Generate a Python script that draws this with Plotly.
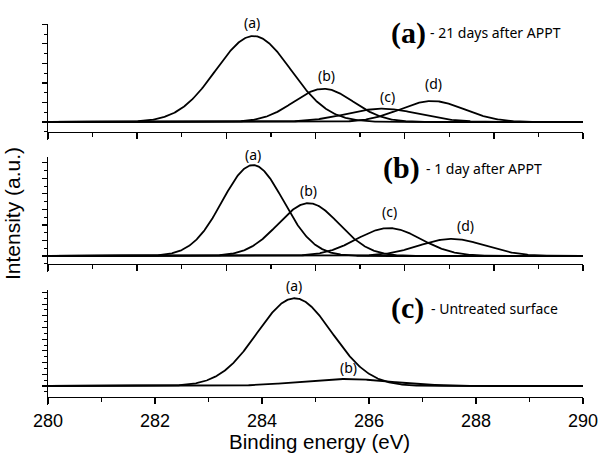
import numpy as np
import plotly.graph_objects as go

# ---------------- data ----------------
panel_tags = ["(a)", "(b)", "(c)"]
panel_captions = ["- 21 days after APPT", "- 1 day after APPT", "- Untreated surface"]

# fitted C1s components: centre (eV), height (a.u.), gaussian sigma (eV)
p1_labels = ["(a)", "(b)", "(c)", "(d)"]
p1_centers = [283.84, 285.15, 286.25, 287.18]
p1_heights = [8.8, 3.4, 1.36, 2.15]
p1_sigmas = [0.70, 0.56, 0.68, 0.60]

p2_labels = ["(a)", "(b)", "(c)", "(d)"]
p2_centers = [283.83, 284.87, 286.37, 287.55]
p2_heights = [11.7, 6.8, 3.6, 2.2]
p2_sigmas = [0.57, 0.57, 0.60, 0.62]

p3_labels = ["(a)", "(b)"]
p3_centers = [284.61, 285.55]
p3_heights = [15.0, 1.2]
p3_sigmas = [0.70, 0.85]

x_major_ticks = [280, 282, 284, 286, 288, 290]
x_minor_ticks = [281, 283, 285, 287, 289]

# ---------------- layout constants ----------------
W, H = 598, 453
L, R, T, B = 48, 15, 24, 48
PW, PH = W - L - R, H - T - B


def py2paper(py):
    return (H - B - py) / PH


def px2paper(px):
    return (px - L) / PW


# pixel geometry of each panel: top, baseline, x-axis line, bottom end, px per y unit
GEOM = [
    (24, 122, 132, 140, 9.77),
    (157, 256, 264, 272, 7.77),
    (290, 386, 397, 405, 5.85),
]
TITLE_Y = [33, 168, 308]
TITLE_X = [389, 381, 389]
CAPTION_X = [428, 424, 429]

LABEL_SHIFTS = [
    [(-1, 14), (3, 13), (5, 12), (1, 17)],
    [(0, 11), (0, 13), (1, 17), (14, 13)],
    [(-1, 13), (4, 11)],
]

panels = [
    (p1_labels, p1_centers, p1_heights, p1_sigmas),
    (p2_labels, p2_centers, p2_heights, p2_sigmas),
    (p3_labels, p3_centers, p3_heights, p3_sigmas),
]

xs = np.linspace(280, 290, 801)

fig = go.Figure()
annotations = []
LABEL_FONT = dict(family="Noto Sans, Open Sans, sans-serif", size=14, color="black")

for i, (labels, centers, heights, sigmas) in enumerate(panels):
    k = i + 1
    xa = "x" if k == 1 else f"x{k}"
    ya = "y" if k == 1 else f"y{k}"
    for lab, c, h, s in zip(labels, centers, heights, sigmas):
        ys = h * np.exp(-((xs - c) ** 2) / (2 * s * s))
        fig.add_trace(go.Scatter(x=xs, y=ys, mode="lines",
                                 line=dict(color="black", width=1.8),
                                 xaxis=xa, yaxis=ya, showlegend=False,
                                 hoverinfo="skip", cliponaxis=False))
    for (lab, c, h), (dx, dy) in zip(zip(labels, centers, heights), LABEL_SHIFTS[i]):
        annotations.append(dict(x=c, y=h, xref=xa, yref=ya, text=lab,
                                showarrow=False, xshift=dx, yshift=dy,
                                font=LABEL_FONT, xanchor="center", yanchor="middle"))

    top, base, axis_py, end, unit = GEOM[i]
    y_lo = -(end - base) / unit
    y_hi = (base - top) / unit
    y_axis_val = -(axis_py - base) / unit
    first = int(np.ceil(y_axis_val - 1e-6))
    last = int(np.floor(y_hi + 1e-6))
    ticks = list(range(first, last + 1))
    y_major = [t for t in ticks if t % 2 == 0]
    y_minor = [t for t in ticks if t % 2 != 0]

    if k < 3:
        step = 10 / 12
        xmaj = [280 + 2 * j * step for j in range(7)]
        xmin = [280 + (2 * j + 1) * step for j in range(6)]
    else:
        xmaj = x_major_ticks
        xmin = x_minor_ticks

    xkey = "xaxis" if k == 1 else f"xaxis{k}"
    ykey = "yaxis" if k == 1 else f"yaxis{k}"
    fig.update_layout(**{
        xkey: dict(domain=[0, 1], range=[280, 290.0001], anchor="free",
                   position=py2paper(axis_py), showline=True,
                   linecolor="black", linewidth=1.4, ticks="outside",
                   tickmode="array", tickvals=xmaj,
                   ticktext=[str(int(round(v))) for v in xmaj],
                   ticklen=6, tickwidth=1.4, tickcolor="black",
                   minor=dict(tickmode="array", tickvals=xmin, ticks="outside",
                              ticklen=4, tickwidth=1.2, tickcolor="black",
                              showgrid=False),
                   showticklabels=(k == 3), showgrid=False, zeroline=False,
                   automargin=False, ticklabeloverflow="allow",
                   ticklabelstandoff=1,
                   tickfont=dict(family="Liberation Sans, Arial, sans-serif",
                                 size=18, color="black"),
                   fixedrange=True),
        ykey: dict(domain=[py2paper(end), py2paper(top)], range=[y_lo, y_hi],
                   anchor=xa, showline=True, linecolor="black", linewidth=1.4,
                   ticks="outside", tickmode="array", tickvals=y_major,
                   ticklen=5, tickwidth=1.2, tickcolor="black",
                   minor=dict(tickmode="array", tickvals=y_minor, ticks="outside",
                              ticklen=3, tickwidth=1.0, tickcolor="black",
                              showgrid=False),
                   showticklabels=False, showgrid=False, zeroline=False,
                   automargin=False, fixedrange=True),
    })

    annotations.append(dict(x=px2paper(TITLE_X[i]), y=py2paper(TITLE_Y[i]),
                            xref="paper", yref="paper", text="<b>" + panel_tags[i] + "</b>",
                            showarrow=False, xanchor="left", yanchor="middle",
                            font=dict(family="Liberation Serif, Times New Roman, serif",
                                      size=30, color="black")))
    annotations.append(dict(x=px2paper(CAPTION_X[i]), y=py2paper(TITLE_Y[i]),
                            xref="paper", yref="paper", text=panel_captions[i],
                            showarrow=False, xanchor="left", yanchor="middle",
                            font=dict(family="Noto Sans, Open Sans, sans-serif",
                                      size=14, color="black")))

# axis titles
annotations.append(dict(x=px2paper(319), y=py2paper(441), xref="paper", yref="paper",
                        text="Binding energy (eV)", showarrow=False,
                        xanchor="center", yanchor="middle",
                        font=dict(family="Liberation Sans, Arial, sans-serif",
                                  size=20.5, color="black")))
annotations.append(dict(x=px2paper(12), y=py2paper(214), xref="paper", yref="paper",
                        text="Intensity (a.u.)", showarrow=False, textangle=-90,
                        xanchor="center", yanchor="middle",
                        font=dict(family="Liberation Sans, Arial, sans-serif",
                                  size=21, color="black")))

fig.update_layout(width=W, height=H, margin=dict(l=L, r=R, t=T, b=B, autoexpand=False),
                  paper_bgcolor="white", plot_bgcolor="white",
                  annotations=annotations, showlegend=False)

fig.write_html("out.html", config={"displayModeBar": False, "staticPlot": True},
               post_script="document.body.style.margin='0px';")
